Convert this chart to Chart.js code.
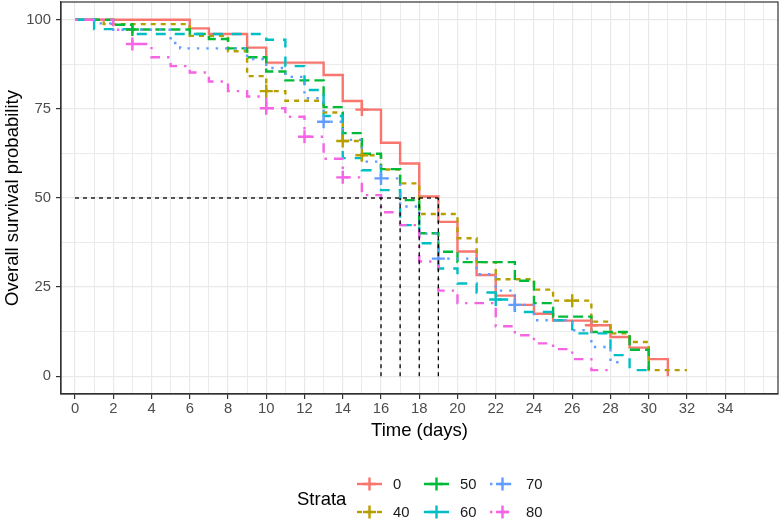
<!DOCTYPE html>
<html><head><meta charset="utf-8">
<script src="https://cdn.jsdelivr.net/npm/chart.js@4.4.1/dist/chart.umd.min.js"></script>
<style>html,body{margin:0;padding:0;background:#fff}#wrap{width:782px;height:526px;position:relative}</style>
</head><body><div id="wrap"><canvas id="c" width="782" height="526"></canvas></div>
<script>
// ---- data ----
const strata = ['0','40','50','60','70','80'];

const t0  = [0,6,7,9,10,13,14,15,16,17,18,19,20,21,22,23,24,25,27,28,29,30,31];
const s0  = [100,97.6,96,92.2,88,84.5,77.2,74.8,65.5,59.7,50.4,43.3,35,28.4,22.6,20,17.5,15.6,14.3,11,8,4.8,0];
const c0t = [15,27];
const c0s = [74.8,14.3];

const t40  = [0,1.5,6,8,9,10,11,13,14,15,16,17,18,20,21,22,24,25,27,28,29,30,32];
const s40  = [100,98.8,95.5,91.2,84.2,80,77.3,74,66,62,58,54.1,45.5,38.7,32,27.2,24.3,21.2,15.3,12,9.6,1.7,1.7];
const c40t = [10,14,15,26];
const c40s = [80,66,62,21.2];

const t50  = [0,2,3,6,7,8,9,10,11,13,14,15,16,17,18,19,20,23,24,25,27,29,30];
const s50  = [100,98.6,97.3,96,94.6,92,89.5,85.5,83,75.5,68.2,62.4,58.1,49.4,40.1,34.9,32,26.8,20.5,16.7,12.4,7.4,1.7];
const c50t = [3];
const c50s = [97.3];

const t60  = [0,1,3,10,11,12,13,14,15,16,17,18,19,20,21,22,23,25,26,28,29,30];
const s60  = [100,97.4,96,94.4,87,80.3,73,61.2,57.8,52.2,42.4,37.3,30.2,26,23.5,21.5,18,15.7,12,5.9,1.7,1.7];
const c60t = [22];
const c60s = [21.5];

const t70  = [0,1,2,5,5.5,9,10,11,12,13,14,15,16,17,18,19,21,22,23,24,26,27,28,28.5];
const s70  = [100,99,97.2,93.5,92,89,86.5,84,78,71.4,66.3,60.2,55.5,47.6,40,33,28.6,24,20,15.7,12.9,8.2,3.9,3.9];
const c70t = [13,16,19,23];
const c70s = [71.4,55.5,33,20];

const t80  = [0,2,3,4,5,6,7,8,9,10,11,12,13,14,15,16,17,18,19,20,22,23,24,25,26,27,28];
const s80  = [100,97.2,93.2,89.5,87,85.2,82.7,80,78.5,75.2,72.8,67.2,61,55.8,50.8,46,42.4,32.2,24,20.5,14,11.5,9.2,7.6,4.8,1.7,1.7];
const c80t = [3,10,12,14];
const c80s = [93.2,75.2,67.2,55.8];

const medians = [16,17,18,19];
const xTicks = [0,1,2,3,4,5,6,7,8,9,10,11,12,13,14,15,16,17,18,19,20,21,22,23,24,25,26,27,28,29,30,31,32,33,34,35,36];
const xLabels = [0,2,4,6,8,10,12,14,16,18,20,22,24,26,28,30,32,34];
const yTicks = [0,12.5,25,37.5,50,62.5,75,87.5,100];
const yLabels = [0,25,50,75,100];

// ---- styles ----
const colors = ['#F8766D','#B79F00','#00BA38','#00BFC4','#619CFF','#F564E3'];
const dashes = [[],[5,5],[10,5],[10,9],[2.4,7],[2.4,7,9.5,7]];
const FONT = '"Liberation Sans", Arial, Helvetica, sans-serif';
const LW = 2.4;

const series = [[t0,s0,c0t,c0s],[t40,s40,c40t,c40s],[t50,s50,c50t,c50s],[t60,s60,c60t,c60s],[t70,s70,c70t,c70s],[t80,s80,c80t,c80s]];

const datasets = [];
series.forEach(([t,s,ct,cs],i)=>{
  datasets.push({
    type:'line', label:strata[i],
    data:t.map((x,j)=>({x:x,y:s[j]})),
    stepped:true, borderColor:colors[i], borderWidth:LW, borderDash:dashes[i],
    pointRadius:0, fill:false, order:20-i
  });
});
series.forEach(([t,s,ct,cs],i)=>{
  datasets.push({
    type:'scatter', label:strata[i]+' censor',
    data:ct.map((x,j)=>({x:x,y:cs[j]})),
    showLine:false, pointStyle:'cross', pointRadius:6.5, pointBorderWidth:LW,
    borderColor:colors[i], backgroundColor:colors[i], order:10-i
  });
});
const mMax = Math.max(...medians);
datasets.push({type:'line', label:'median-h', data:[{x:0,y:50},{x:mMax,y:50}],
  borderColor:'#000', borderWidth:1.3, borderDash:[4,4], pointRadius:0, fill:false, order:0});
medians.forEach(m=>{
  datasets.push({type:'line', label:'median-'+m, data:[{x:m,y:0},{x:m,y:50}],
    borderColor:'#000', borderWidth:1.3, borderDash:[4,4], pointRadius:0, fill:false, order:0});
});

const panelBorder = {
  id:'panelBorder',
  afterDatasetsDraw(chart){
    const {ctx, chartArea:a} = chart;
    ctx.save();
    ctx.strokeStyle='#333333'; ctx.lineWidth=1.2; ctx.setLineDash([]);
    ctx.strokeRect(a.left, a.top, a.right-a.left, a.bottom-a.top);
    ctx.restore();
  }
};

const legendPlugin = {
  id:'strataLegend',
  afterDraw(chart){
    const ctx = chart.ctx;
    ctx.save();
    ctx.textBaseline='middle'; ctx.textAlign='left';
    ctx.fillStyle='#000';
    ctx.font = '18.5px ' + FONT;
    ctx.fillText('Strata', 297, 500);
    const colX = [357, 424, 490];
    const rowY = [484, 512];
    strata.forEach((lab,i)=>{
      const col = Math.floor(i/2), row = i%2;
      const x = colX[col], y = rowY[row];
      ctx.strokeStyle = colors[i]; ctx.lineWidth = LW;
      ctx.setLineDash(dashes[i]);
      ctx.beginPath(); ctx.moveTo(x, y); ctx.lineTo(x+25, y); ctx.stroke();
      ctx.setLineDash([]);
      ctx.beginPath();
      ctx.moveTo(x+12.5-6.5, y); ctx.lineTo(x+12.5+6.5, y);
      ctx.moveTo(x+12.5, y-6.5); ctx.lineTo(x+12.5, y+6.5);
      ctx.stroke();
      ctx.fillStyle = '#1a1a1a';
      ctx.font = '14.8px ' + FONT;
      ctx.fillText(lab, x+36, y+1);
    });
    ctx.restore();
  }
};

function noPad(s){ s.paddingTop = 0; s.paddingBottom = 0; s.paddingLeft = 0; s.paddingRight = 0; }

new Chart(document.getElementById('c'), {
  data:{datasets},
  options:{
    responsive:false, animation:false, devicePixelRatio:1,
    layout:{autoPadding:false, padding:{left:0,right:4,top:2,bottom:82}},
    plugins:{legend:{display:false}, tooltip:{enabled:false}},
    scales:{
      x:{
        type:'linear', min:-0.732, max:36.76,
        afterBuildTicks:(s)=>{ s.ticks = xTicks.map(v=>({value:v})); },
        afterFit:(s)=>{ s.height = 50; noPad(s); },
        ticks:{ autoSkip:false, maxRotation:0, padding:1, color:'#4d4d4d',
          font:{size:14.8, family:FONT},
          callback:(v)=> xLabels.includes(v) ? String(v) : '' },
        grid:{ color:'#e9e9e9', lineWidth:(c)=> (c.tick && xLabels.includes(c.tick.value)) ? 1.2 : 0.9,
          tickColor:(c)=> (c.tick && xLabels.includes(c.tick.value)) ? '#333333' : 'rgba(0,0,0,0)',
          tickLength:5, drawTicks:true },
        border:{display:true, color:'#333333', width:1.2},
        title:{display:true, text:'Time (days)', color:'#000', font:{size:18.5, family:FONT}, padding:{top:0,bottom:2}}
      },
      y:{
        type:'linear', min:-5, max:105,
        afterBuildTicks:(s)=>{ s.ticks = yTicks.map(v=>({value:v})); },
        afterFit:(s)=>{ s.width = 61; noPad(s); },
        ticks:{ autoSkip:false, padding:5, color:'#4d4d4d',
          font:{size:14.8, family:FONT},
          callback:(v)=> yLabels.includes(v) ? String(v) : '' },
        grid:{ color:'#e9e9e9', lineWidth:(c)=> (c.tick && yLabels.includes(c.tick.value)) ? 1.2 : 0.9,
          tickColor:(c)=> (c.tick && yLabels.includes(c.tick.value)) ? '#333333' : 'rgba(0,0,0,0)',
          tickLength:5, drawTicks:true },
        border:{display:true, color:'#333333', width:1.2},
        title:{display:true, text:'Overall survival probability', color:'#000', font:{size:18.5, family:FONT}, padding:{top:2,bottom:0}}
      }
    }
  },
  plugins:[panelBorder, legendPlugin]
});
</script></body></html>
